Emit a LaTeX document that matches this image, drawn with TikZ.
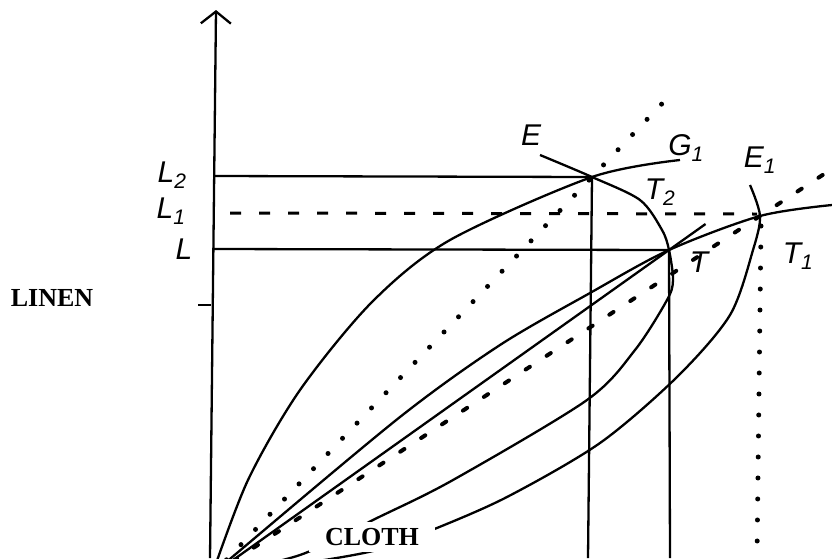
\documentclass[tikz,border=0pt]{standalone}
\usepackage{fontspec}
\setmainfont{Liberation Serif}
\setsansfont{Liberation Sans}
\usetikzlibrary{arrows.meta,calc}

\begin{document}
\begin{tikzpicture}[x=1pt, y=-1pt,
  curve/.style={line width=2.3pt, line join=round},
  dotray/.style={line width=5pt, line cap=round, dash pattern=on 0pt off 21pt},
  dashray/.style={line width=4pt, line cap=round, dash pattern=on 5pt off 20pt},
  lvl/.style={line width=3pt, dash pattern=on 11pt off 18pt},
  lbl/.style={font=\sffamily\itshape\fontsize{30}{30}\selectfont, inner sep=0pt},
  good/.style={font=\bfseries\fontsize{26}{26}\selectfont, inner sep=0pt}]
\useasboundingbox (0,0) rectangle (832,558);
\fill[white] (0,0) rectangle (832,558);
\clip (0,0) rectangle (832,558);

\coordinate (O) at (212,575);
\coordinate (Ob) at (210,558);
\coordinate (Y) at (216,10);
\coordinate (E) at (592,177);
\coordinate (T) at (669,250);
\coordinate (T1) at (760,216);
\coordinate (Eb) at (588,558);
\coordinate (Tb) at (670,558);
\coordinate (T1t) at (761,226);
\coordinate (T1b) at (757,558);
\coordinate (yL2) at (214,176);
\coordinate (yL1) at (230,213);
\coordinate (eL1) at (757,214);
\coordinate (yL) at (213,249);
\coordinate (tk1) at (198,305);
\coordinate (tk2) at (211,305);

% axis
\draw[curve, -{Straight Barb[length=12pt,width=30pt]}] (Ob) -- (Y);
\draw[curve] (tk1) -- (tk2);

% levels
\draw[curve] (yL2) -- (E);
\draw[lvl] (yL1) -- (eL1);
\draw[curve] (yL) -- (T);
\draw[curve] (E) -- (Eb);
\draw[curve] (T) -- (Tb);
\draw[dotray] (T1t) -- (T1b);

% rays
\draw[dotray] (O) -- ($(O)!1.2!(E)$);
\draw[dashray] (O) -- ($(O)!1.13!(T1)$);
\draw[curve] (O) -- ($(O)!1.08!(T)$);

% offer curves
\draw[curve] plot[smooth] coordinates {(O) (248,480) (300,390) (372,302) (450,240) (E) (680,160)};
\draw[curve] plot[smooth] coordinates {(O) (237,553) (400,417) (500,345) (590,293) (T) (T1) (832,205)};
\draw[curve] plot[smooth] coordinates {(O) (300,555) (377,518) (453,480) (587,400) (635,350) (667,300) (673,280) (T) (662,230) (640,200) (E) (540,155)};
\draw[curve] plot[smooth] coordinates {(O) (305,563) (377,550) (432,530) (507,497) (600,443) (677,377) (730,315) (753,250) (T1) (750,185)};

\node[lbl] (lL2) at (172,175) {L\textsubscript{2}};
\node[lbl] (lL1) at (171,211) {L\textsubscript{1}};
\node[lbl] (lL) at (184,249) {L};
\node[lbl] (lE) at (531,135) {E};
\node[lbl] (lG1) at (686,148) {G\textsubscript{1}};
\node[lbl] (lE1) at (760,160) {E\textsubscript{1}};
\node[lbl] (lT2) at (660,192) {T\textsubscript{2}};
\node[lbl] (lT) at (699,262) {T};
\node[lbl] (lT1) at (798,256) {T\textsubscript{1}};

\node[good] (linen) at (52,298) {LINEN};
\node[good, fill=white, inner xsep=16pt, inner ysep=6pt] (cloth) at (372,537) {CLOTH};
\end{tikzpicture}
\end{document}
